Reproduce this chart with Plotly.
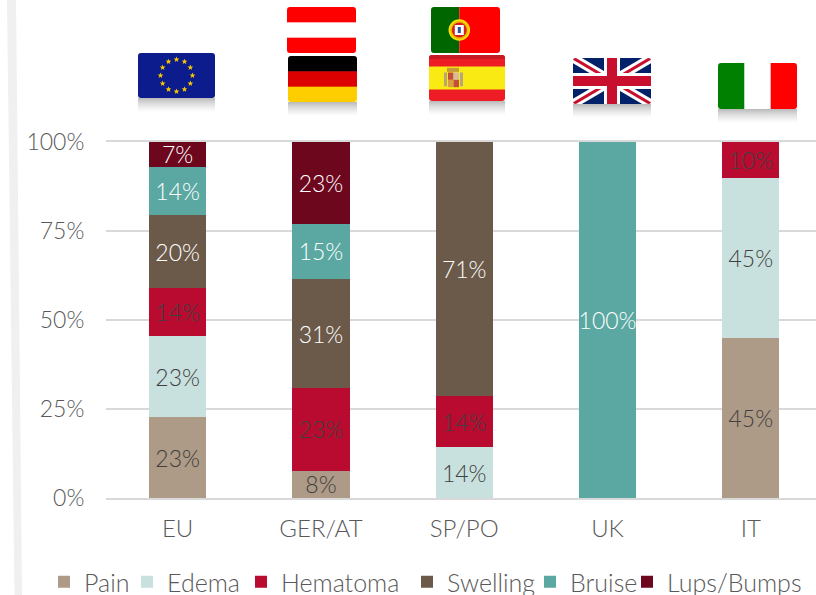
import base64
import math
import plotly.graph_objects as go

categories = ["EU", "GER/AT", "SP/PO", "UK", "IT"]
pain = [22.7, 7.7, None, None, 45]
edema = [22.7, None, 14.3, None, 45]
hematoma = [13.6, 23.1, 14.3, None, 10]
swelling = [20.4, 30.8, 71.4, None, None]
bruise = [13.6, 15.4, None, 100, None]
lups = [7.0, 23.0, None, None, None]
tick_vals = [0, 25, 50, 75, 100]
tick_text = ["0%", "25%", "50%", "75%", "100%"]

FONT = "Lato"
GREY = "#595959"
DARK = "#404040"
WHITE = "#ffffff"

series = [
    ("Pain", pain, "#AD9A87", DARK, 38),
    ("Edema", edema, "#C9E1DE", DARK, 69),
    ("Hematoma", hematoma, "#B80B2F", DARK, 121),
    ("Swelling", swelling, "#6B5A49", WHITE, 78),
    ("Bruise", bruise, "#5AA8A1", WHITE, 52),
    ("Lups/Bumps", lups, "#6C071E", WHITE, 138),
]

fig = go.Figure()
for name, vals, color, tcolor, lw in series:
    fig.add_bar(
        name=name, x=categories, y=vals, marker_color=color, marker_line_width=0,
        width=0.4, texttemplate="%{y:.0f}%", textposition="inside",
        insidetextanchor="middle", textangle=0, constraintext="none",
        textfont=dict(family=FONT, size=23, color=tcolor, weight=300),
        legendwidth=lw, hoverinfo="x+y+name",
    )

L, T, B = 106, 142, 498
W, H = 816 - L, B - T


def px(x):
    return (x - L) / W


def py(y):
    return (B - y) / H


def svg_uri(w, h, body):
    s = (f'<svg xmlns="http://www.w3.org/2000/svg" width="{w}" height="{h}" '
         f'viewBox="0 0 {w} {h}">{body}</svg>')
    return "data:image/svg+xml;base64," + base64.b64encode(s.encode()).decode()


def flag(x, y, w, h, inner, reflect=True):
    """Rounded flag with optional soft reflection; inner is drawn in a w x h box."""
    rh = 14 if reflect else 0
    clip = f'<clipPath id="c"><rect width="{w}" height="{h}" rx="3"/></clipPath>'
    grad = ('<linearGradient id="g" x1="0" y1="0" x2="0" y2="1">'
            '<stop offset="0" stop-color="#8a8a8a" stop-opacity="0.6"/>'
            '<stop offset="1" stop-color="#bbbbbb" stop-opacity="0"/></linearGradient>')
    ref = f'<rect x="0" y="{h}" width="{w}" height="{rh}" fill="url(#g)"/>' if reflect else ""
    body = f'<defs>{clip}{grad}</defs>{ref}<g clip-path="url(#c)">{inner}</g>'
    return dict(source=svg_uri(w, h + rh, body), xref="paper", yref="paper",
                x=px(x), y=py(y), sizex=w / W, sizey=(h + rh) / H,
                xanchor="left", yanchor="top", sizing="stretch", layer="above")


def rect(x, y, w, h, c):
    return f'<rect x="{x}" y="{y}" width="{w}" height="{h}" fill="{c}"/>'


def eu(w, h):
    out = rect(0, 0, w, h, "#0C1C8C")
    cx, cy = w / 2, h / 2
    for i in range(12):
        a = math.radians(30 * i)
        sx, sy = cx + 16 * math.sin(a), cy - 16 * math.cos(a)
        pts = []
        for k in range(10):
            r = 3 if k % 2 == 0 else 1.3
            b = math.radians(36 * k)
            pts.append(f"{sx + r * math.sin(b):.2f},{sy - r * math.cos(b):.2f}")
        out += f'<polygon points="{" ".join(pts)}" fill="#F7C600"/>'
    return out


def austria(w, h):
    return rect(0, 0, w, h, "#FF0000") + rect(0, h / 3, w, h / 3, "#FFFFFF")


def germany(w, h):
    return rect(0, 0, w, h / 3 + .5, "#000000") + rect(0, h / 3, w, h / 3 + .5, "#DD0000") + rect(0, 2 * h / 3, w, h / 3, "#FFCE00")


def portugal(w, h):
    s = w * 0.41
    return (rect(0, 0, s, h, "#006600") + rect(s, 0, w - s, h, "#FF0000")
            + f'<circle cx="{s}" cy="{h/2}" r="10" fill="#E8C000" stroke="#FFE000" stroke-width="1.5"/>'
            + f'<circle cx="{s}" cy="{h/2}" r="7.5" fill="#D82020"/>'
            + rect(s - 4.5, h / 2 - 5, 9, 10, "#FFFFFF")
            + rect(s - 1.5, h / 2 - 3, 3, 6, "#2A50A8"))


def spain(w, h):
    return (rect(0, 0, w, h, "#EE1C25")
            + rect(0, 0, w, 4, "#C81A22")
            + rect(0, h * 0.25, w, h * 0.5, "#F8EA12")
            + rect(18, h * 0.28, 12, 4, "#C79A3A")
            + rect(15, h * 0.38, 3, h * 0.3, "#B8A878")
            + rect(31, h * 0.38, 3, h * 0.3, "#B8A878")
            + rect(19, h * 0.38, 5.5, h * 0.16, "#C4503A")
            + rect(24.5, h * 0.38, 5.5, h * 0.16, "#D9B8A0")
            + rect(19, h * 0.54, 5.5, h * 0.16, "#D9A040")
            + rect(24.5, h * 0.54, 5.5, h * 0.16, "#C4503A"))


def uk(w, h):
    blue, red = "#012169", "#C8102E"
    out = rect(0, 0, w, h, blue)
    out += (f'<path d="M0 0L{w} {h}M{w} 0L0 {h}" stroke="#fff" stroke-width="9"/>'
            f'<path d="M0 0L{w} {h}M{w} 0L0 {h}" stroke="{red}" stroke-width="3"/>')
    out += rect(w / 2 - 8, 0, 16, h, "#fff") + rect(0, h / 2 - 8, w, 16, "#fff")
    out += rect(w / 2 - 5, 0, 10, h, red) + rect(0, h / 2 - 5, w, 10, red)
    return out


def italy(w, h):
    return rect(0, 0, w / 3 + .5, h, "#008000") + rect(w / 3, 0, w / 3, h, "#FFFFFF") + rect(2 * w / 3, 0, w / 3, h, "#FF0000")


images = [
    flag(138, 53, 77, 45, eu(77, 45)),
    flag(287, 7, 69, 46, austria(69, 46), reflect=False),
    flag(288, 56, 69, 46, germany(69, 46)),
    flag(431, 7, 69, 46, portugal(69, 46), reflect=False),
    flag(429, 55, 76, 46, spain(76, 46)),
    flag(573, 58, 78, 46, uk(78, 46)),
    flag(718, 63, 79, 46, italy(79, 46)),
]

stripe = dict(
    type="path", xref="paper", yref="paper", layer="below", line_width=0,
    fillcolor="#F0F0F0",
    path=f"M{px(7)},{py(0)} L{px(16)},{py(0)} L{px(22)},{py(595)} L{px(14.5)},{py(595)} Z",
)

fig.update_layout(
    width=816, height=595, autosize=False, barmode="stack",
    margin=dict(l=L, r=0, t=T, b=595 - B, pad=0, autoexpand=False),
    paper_bgcolor="white", plot_bgcolor="white",
    font=dict(family=FONT, color=GREY),
    images=images, shapes=[stripe],
    xaxis=dict(
        type="category", range=[-0.5, 4.455], showgrid=False, showline=True, mirror=True,
        linecolor="#D9D9D9", linewidth=2, ticks="outside", ticklen=8,
        tickcolor="rgba(0,0,0,0)", tickfont=dict(family=FONT, size=24, color=GREY, weight=300),
    ),
    yaxis=dict(
        range=[0, 100], tickvals=tick_vals, ticktext=tick_text, showline=False,
        gridcolor="#D9D9D9", gridwidth=2, zeroline=False, ticks="outside", ticklen=16,
        tickcolor="rgba(0,0,0,0)", tickfont=dict(family=FONT, size=23, color=GREY, weight=300),
    ),
    legend=dict(
        orientation="h", xref="paper", yref="paper",
        x=px(44), xanchor="left", y=py(559), yanchor="top",
        font=dict(family=FONT, size=25, color=GREY, weight=300), traceorder="normal",
        itemwidth=30, tracegroupgap=0, bgcolor="rgba(0,0,0,0)",
    ),
)

fig.write_html("out.html", config={"displayModeBar": False},
               post_script="document.body.style.margin='0';")
